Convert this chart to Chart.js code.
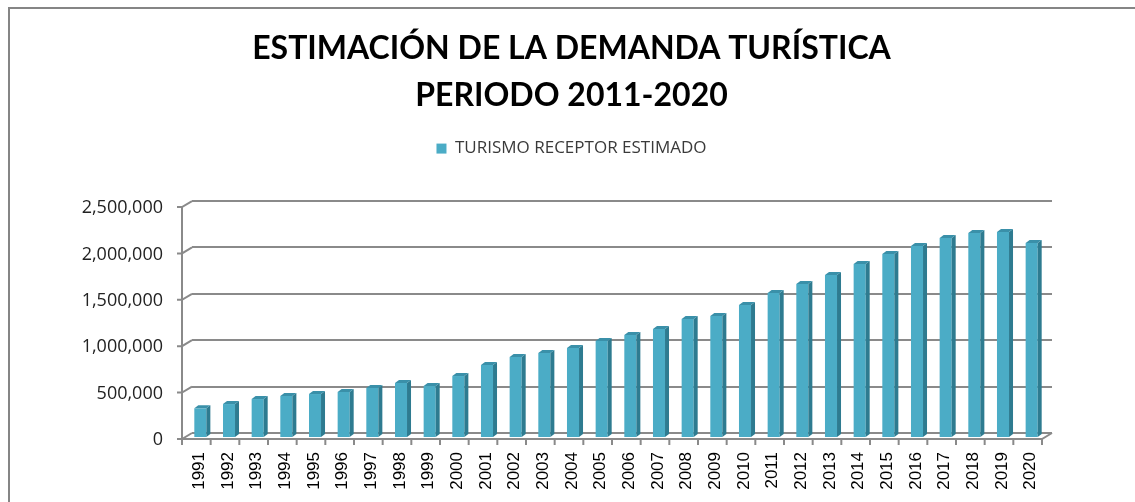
<!DOCTYPE html>
<html>
<head>
<meta charset="utf-8">
<script src="https://cdn.jsdelivr.net/npm/chart.js@4.4.0/dist/chart.umd.min.js"></script>
<style>
  html, body { margin: 0; padding: 0; background: #fff; }
  #contenedor { width: 1135px; height: 502px; }
</style>
</head>
<body>
<div id="contenedor"><canvas id="grafico" width="1135" height="502"></canvas></div>
<script>
// Datos
const anios = ['1991', '1992', '1993', '1994', '1995', '1996', '1997', '1998', '1999', '2000',
  '2001', '2002', '2003', '2004', '2005', '2006', '2007', '2008', '2009', '2010',
  '2011', '2012', '2013', '2014', '2015', '2016', '2017', '2018', '2019', '2020'];
const turismoReceptor = [320000, 366000, 420000, 453000, 474000, 496000, 539000, 593000, 560000, 668000,
  787000, 873000, 916000, 970000, 1045000, 1110000, 1175000, 1282000, 1315000, 1433000,
  1562000, 1660000, 1756000, 1875000, 1983000, 2069000, 2155000, 2209000, 2220000, 2101000];
const marcasEjeY = [0, 500000, 1000000, 1500000, 2000000, 2500000];
const nombreSerie = 'TURISMO RECEPTOR ESTIMADO';
const titulo = ['ESTIMACIÓN DE LA DEMANDA TURÍSTICA', 'PERIODO 2011-2020'];

// Profundidad del efecto 3D (pared del fondo respecto al plano frontal)
const fondoDx = 10, fondoDy = 6;
const colorLinea = '#8a8a8a';

// Marco del área del gráfico
const marco = {
  id: 'marco',
  beforeDraw(chart) {
    const ctx = chart.ctx;
    ctx.save();
    ctx.fillStyle = '#fff';
    ctx.fillRect(0, 0, chart.width, chart.height);
    ctx.strokeStyle = '#858585';
    ctx.lineWidth = 2;
    ctx.strokeRect(9, 8, chart.width + 20, chart.height + 20);
    ctx.restore();
  }
};

// Ejes frontales y diagonales de la perspectiva
const ejes3D = {
  id: 'ejes3D',
  beforeDatasetsDraw(chart) {
    const ctx = chart.ctx;
    const a = chart.chartArea;
    const y = chart.scales.y;
    const xf = a.left - fondoDx;
    ctx.save();
    ctx.strokeStyle = colorLinea;
    ctx.lineWidth = 2;
    ctx.beginPath();
    // vertical frontal
    ctx.moveTo(xf, a.top + fondoDy);
    ctx.lineTo(xf, a.bottom + fondoDy);
    y.ticks.forEach(t => {
      const py = y.getPixelForValue(t.value);
      ctx.moveTo(xf - 5, py + fondoDy);
      ctx.lineTo(xf, py + fondoDy);
      ctx.lineTo(a.left, py);
    });
    // suelo frontal
    ctx.moveTo(xf, a.bottom + fondoDy);
    ctx.lineTo(a.right - fondoDx, a.bottom + fondoDy);
    ctx.lineTo(a.right, a.bottom);
    const paso = (a.right - a.left) / anios.length;
    for (let i = 0; i <= anios.length; i++) {
      const px = a.left + i * paso - fondoDx;
      ctx.moveTo(px, a.bottom + fondoDy);
      ctx.lineTo(px, a.bottom + fondoDy + 6);
    }
    ctx.stroke();
    ctx.restore();
    // desplaza las barras hacia el plano medio
    ctx.save();
    ctx.translate(-6, 5);
  },
  afterDatasetsDraw(chart) {
    const ctx = chart.ctx;
    const meta = chart.getDatasetMeta(0);
    meta.data.forEach(barra => {
      const { x, y, base, width } = barra.getProps(['x', 'y', 'base', 'width'], true);
      const izq = x - width / 2, der = x + width / 2;
      // cara lateral
      ctx.fillStyle = '#2E7B90';
      ctx.beginPath();
      ctx.moveTo(der, y);
      ctx.lineTo(der + 4, y - 3);
      ctx.lineTo(der + 4, base - 3);
      ctx.lineTo(der, base);
      ctx.closePath();
      ctx.fill();
      // cara superior
      ctx.fillStyle = '#3A90A9';
      ctx.beginPath();
      ctx.moveTo(izq, y);
      ctx.lineTo(izq + 4, y - 3);
      ctx.lineTo(der + 4, y - 3);
      ctx.lineTo(der, y);
      ctx.closePath();
      ctx.fill();
    });
    ctx.restore();
  }
};

// Espacio extra bajo la leyenda
const espacioLeyenda = {
  id: 'espacioLeyenda',
  beforeInit(chart) {
    const fitOriginal = chart.legend.fit;
    chart.legend.fit = function () {
      fitOriginal.bind(chart.legend)();
      this.height += 34;
    };
  }
};

new Chart(document.getElementById('grafico'), {
  type: 'bar',
  data: {
    labels: anios,
    datasets: [{
      label: nombreSerie,
      data: turismoReceptor,
      backgroundColor: '#4BACC6',
      borderWidth: 0,
      barPercentage: 0.42,
      categoryPercentage: 1,
      clip: false
    }]
  },
  options: {
    responsive: false,
    animation: false,
    layout: { padding: { left: 8, top: 0, right: 0, bottom: 0 } },
    plugins: {
      title: {
        display: true,
        text: titulo,
        color: '#000',
        font: { family: 'Lato', size: 32, weight: 'bold', lineHeight: 1.47 },
        padding: { top: 25, bottom: 11 }
      },
      legend: {
        display: true,
        labels: {
          color: '#3a3a3a',
          font: { family: 'Open Sans', size: 17 },
          boxWidth: 10,
          boxHeight: 10,
          padding: 10
        }
      },
      tooltip: { enabled: false }
    },
    scales: {
      x: {
        grid: { display: false, drawTicks: false },
        border: { display: false },
        ticks: {
          color: '#000',
          font: { family: 'Liberation Sans', size: 17 },
          autoSkip: false,
          maxRotation: 90,
          minRotation: 90,
          padding: 19,
          labelOffset: -7
        },
        afterFit(escala) { escala.height = 69; }
      },
      y: {
        min: 0,
        max: 2500000,
        afterBuildTicks(escala) { escala.ticks = marcasEjeY.map(v => ({ value: v })); },
        grid: { color: colorLinea, lineWidth: 2, drawTicks: false },
        border: { display: false },
        ticks: {
          color: '#222',
          font: { family: 'Open Sans', size: 18 },
          padding: 29,
          labelOffset: 7,
          callback: v => v.toLocaleString('en-US')
        },
        afterFit(escala) { escala.width = 184; }
      },
      derecha: {
        position: 'right',
        display: true,
        grid: { display: false, drawTicks: false },
        border: { display: false },
        ticks: { display: false },
        afterFit(escala) { escala.width = 83; }
      }
    }
  },
  plugins: [marco, ejes3D, espacioLeyenda]
});
</script>
</body>
</html>
